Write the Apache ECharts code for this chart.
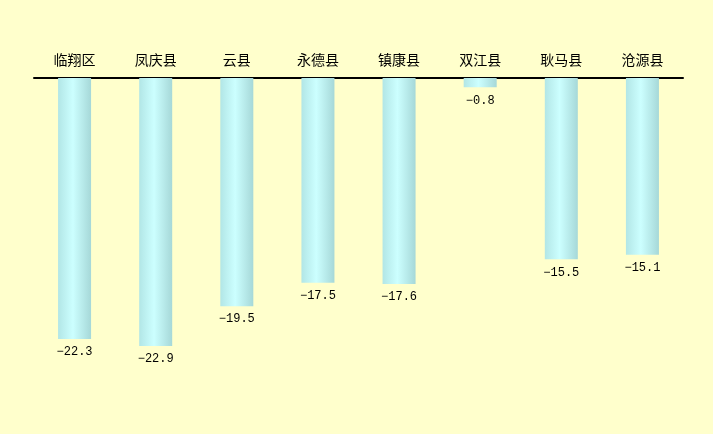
<!DOCTYPE html>
<html><head><meta charset="utf-8">
<script src="https://cdn.jsdelivr.net/npm/echarts@6/dist/echarts.min.js"></script>
<style>html,body{margin:0;padding:0;background:#FFFFCC;}#c{width:713px;height:434px;}</style>
</head><body><div id="c"></div>
<script>
var categories = ['临翔区','凤庆县','云县','永德县','镇康县','双江县','耿马县','沧源县'];
var values = [-22.3, -22.9, -19.5, -17.5, -17.6, -0.8, -15.5, -15.1];
var chart = echarts.init(document.getElementById('c'));
chart.setOption({
  backgroundColor: '#FFFFCC',
  animation: false,
  grid: {left: 34, right: 30, top: 78, bottom: 63.5},
  xAxis: {
    type: 'category', position: 'top', data: categories,
    axisLine: {lineStyle: {color: '#000', width: 2}},
    axisTick: {show: false},
    axisLabel: {color: '#000', fontSize: 14, margin: 11, fontFamily: 'Noto Sans CJK SC'}
  },
  yAxis: {type: 'value', min: -25, max: 0, show: false, splitLine: {show: false}},
  series: [{
    type: 'bar', data: values, barWidth: 33,
    itemStyle: {color: {type: 'linear', x: 0, y: 0, x2: 1, y2: 0, colorStops: [
      {offset: 0, color: '#B2E6E6'}, {offset: 0.45, color: '#CCFFFF'}, {offset: 1, color: '#A6D8D8'}]}},
    label: {show: true, position: 'bottom', distance: 7, color: '#000', fontSize: 12, fontFamily: 'Liberation Mono',
      formatter: function(p){ return String(p.value).replace('-', '\u2212'); }}
  }]
});
</script></body></html>
